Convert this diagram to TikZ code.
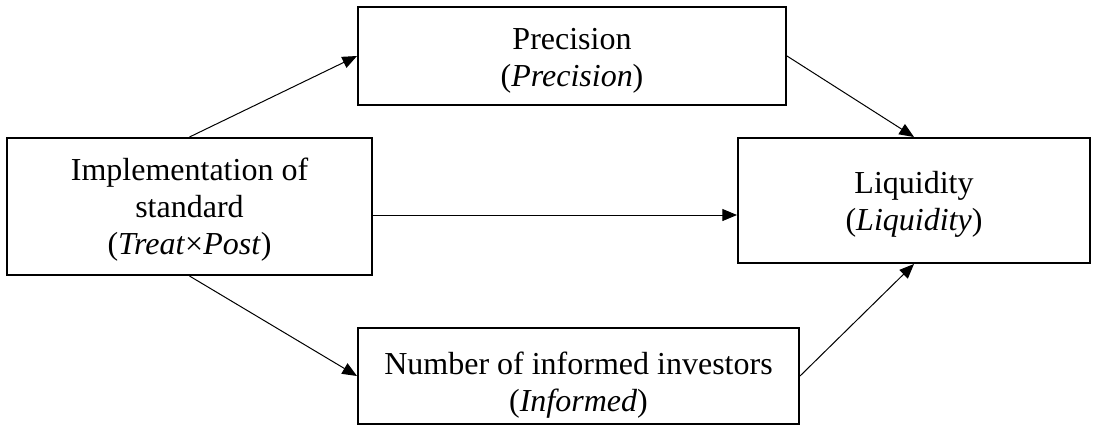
\documentclass[tikz,border=0pt]{standalone}
\usepackage{fontspec}
\setmainfont{Liberation Serif}
\usepackage{tikz}
\usetikzlibrary{arrows.meta, calc}

\begin{document}
\begin{tikzpicture}[x=0.75pt, y=-0.75pt,
    varbox/.style={draw, line width=1.5pt, inner sep=0pt},
    vartext/.style={align=center, inner sep=0pt, yshift=-#1,
        font=\fontsize{24}{27.75}\selectfont},
    >={Triangle[length=11pt, width=9pt]}]
    \useasboundingbox (0,0) rectangle (1096,426);

    % Variable boxes (text sits a little low in each box)
    \node[varbox, minimum width=273.75pt, minimum height=102.75pt,
        label={[vartext=2.25pt]center:{Implementation of\\ standard\\ (\textit{Treat}×\textit{Post})}}]
        (impl) at (189.5,206.5) {};
    \node[varbox, minimum width=321pt, minimum height=73.5pt,
        label={[vartext=3.75pt]center:{Precision\\ (\textit{Precision})}}]
        (prec) at (572,56) {};
    \node[varbox, minimum width=264pt, minimum height=93.75pt,
        label={[vartext=3pt]center:{Liquidity\\ (\textit{Liquidity})}}]
        (liq) at (914,200.5) {};
    \node[varbox, minimum width=330.75pt, minimum height=72pt,
        label={[vartext=6.5pt]center:{Number of informed investors\\ (\textit{Informed})}}]
        (inf) at (578.5,376) {};

    % Paths
    \draw[->, line width=0.75pt] (impl.north) -- (prec.west);
    \draw[->, line width=0.75pt] (prec.east) -- (liq.north);
    \draw[->, line width=0.75pt] ($(impl.east)+(0,8.5)$) coordinate (mid) -- (mid -| liq.west);
    \draw[->, line width=0.75pt] (impl.south) -- (inf.west);
    \draw[->, line width=0.75pt] (inf.east) -- (liq.south);
\end{tikzpicture}
\end{document}
